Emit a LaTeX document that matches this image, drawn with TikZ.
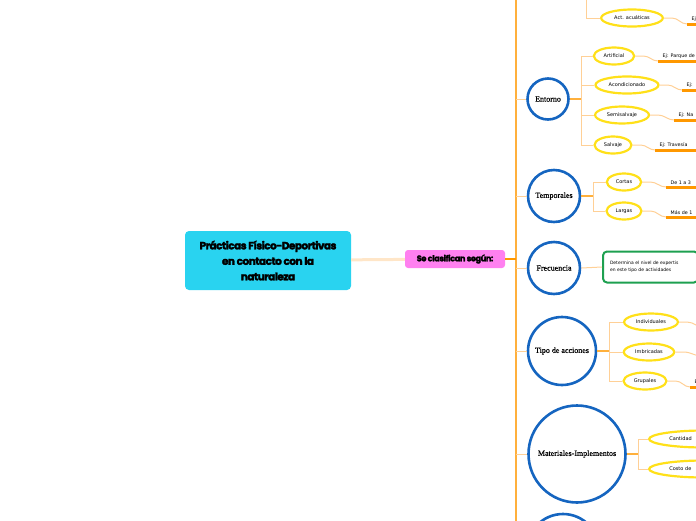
\documentclass[tikz,border=0pt]{standalone}
\usepackage{fontspec}
\usetikzlibrary{shapes.geometric}

\newfontfamily\titlefont{Poppins}[LetterSpace=-5, BoldFeatures={FakeBold=2.5}]
\newfontfamily\smallfont{DejaVu Sans}
\newfontfamily\circlefont{Liberation Serif}[FakeBold=0.6]

\definecolor{boxcyan}{RGB}{41,211,240}
\definecolor{boxpink}{RGB}{255,128,240}
\definecolor{catblue}{RGB}{21,101,192}
\definecolor{subyellow}{RGB}{255,224,25}
\definecolor{barorange}{RGB}{255,152,0}
\definecolor{trunkorange}{RGB}{255,176,60}
\definecolor{linkpeach}{RGB}{255,208,150}
\definecolor{palepeach}{RGB}{255,230,200}
\definecolor{boxgreen}{RGB}{30,160,80}

\begin{document}
\begin{tikzpicture}[x=1pt, y=-1pt,
    cat/.style={circle, draw=catblue, line width=2.6pt, fill=white, inner sep=0pt,
      font=\circlefont\fontsize{8}{9}\selectfont},
    sub/.style={ellipse, draw=subyellow, line width=2.2pt, fill=white, inner xsep=4pt,
      inner ysep=1pt, minimum height=17pt, font=\smallfont\fontsize{5}{6}\selectfont},
    ej/.style={anchor=south west, inner xsep=4.5pt, inner ysep=2pt,
      font=\smallfont\fontsize{4.8}{6}\selectfont},
    bar/.style={draw=barorange, line width=3pt},
    link/.style={draw=linkpeach, line width=1pt},
    stem/.style={draw=trunkorange, line width=1.5pt},
  ]
    \useasboundingbox (0,0) rectangle (696,520);
    \clip (0,0) rectangle (696,520);

    % Nodes
    \node[rounded corners=4pt, fill=boxcyan, minimum width=166pt, minimum height=59pt,
      align=center, font=\titlefont\bfseries\fontsize{10.5}{15.5}\selectfont]
      (titulo) at (268,260.5) {Prácticas Físico-Deportivas\\en contacto con la\\naturaleza};
    \node[rounded corners=3pt, fill=boxpink, minimum width=100pt, minimum height=18pt,
      font=\titlefont\bfseries\fontsize{8.2}{9}\selectfont] (clasif) at (455,259) {Se clasifican según:};

    \coordinate (trunktop) at (516,-5);
    \coordinate (trunkbot) at (516,525);

    \node[cat, minimum size=41pt] (entorno) at (548,99) {Entorno};
    \node[cat, minimum size=52pt] (temporales) at (554,196) {Temporales};
    \node[cat, minimum size=52pt] (frecuencia) at (554,268) {Frecuencia};
    \node[cat, minimum size=68pt] (tipo) at (562,351) {Tipo de acciones};
    \node[cat, minimum size=97pt] (materiales) at (577,454) {Materiales-Implementos};
    \node[cat, minimum size=72pt] (otra) at (563,550) {};

    % top branch (its parent lies above the page)
    \coordinate (acuafork) at (586,-20);
    \node[sub, minimum width=66pt] (arriba) at (630,-11) {};
    \node[sub] (acuaticas) at (632,18) {Act. acuáticas};
    \node[ej] (ejacua) at (687,24) {Ej:};

    \coordinate (entornofork) at (581,99);
    \node[sub] (artificial) at (614,56) {Artificial};
    \node[sub] (acondicionado) at (627,85) {Acondicionado};
    \node[sub] (semisalvaje) at (622,115) {Semisalvaje};
    \node[sub] (salvaje) at (613,145) {Salvaje};
    \node[ej] (ejartificial) at (658,61) {Ej: Parque de};
    \node[ej] (ejacond) at (682,90) {Ej:};
    \node[ej] (ejsemi) at (674,120) {Ej: Na};
    \node[ej] (ejsalvaje) at (655,150) {Ej: Travesía};

    \coordinate (temporalesfork) at (593,196);
    \node[sub] (cortas) at (624,182) {Cortas};
    \node[sub] (largas) at (624,211) {Largas};
    \node[ej] (ejcortas) at (666,187) {De 1 a 3};
    \node[ej] (ejlargas) at (666,217) {Más de 1};

    \node[draw=boxgreen, line width=2pt, rounded corners=4pt, fill=white, anchor=west,
      text width=81pt, inner xsep=7pt, minimum height=31pt, align=left,
      font=\smallfont\fontsize{4.5}{6.5}\selectfont]
      (experticia) at (602,267) {Determina el nivel de expertis\\en este tipo de actividades};

    \coordinate (tipofork) at (609,351);
    \node[sub] (individuales) at (651,322) {Individuales};
    \node[sub] (imbricadas) at (649,352) {Imbricadas};
    \node[sub] (grupales) at (645,381) {Grupales};
    \coordinate (ejindiv) at (705,328);
    \coordinate (ejimbric) at (705,357);
    \node[ej] (ejgrupales) at (690,387) {Ej};

    \coordinate (materialesfork) at (638,454);
    \node[sub, anchor=west, text width=70pt, align=left] (cantidad) at (648,439) {Cantidad};
    \node[sub, anchor=west, text width=70pt, align=left] (costo) at (648,469) {Costo de};

    % Edges
    \draw[draw=palepeach, line width=3pt] (titulo) -- (clasif);
    \draw[draw=trunkorange, line width=1.3pt] (trunktop) -- (trunkbot);
    \draw[draw=barorange, line width=2pt] (clasif.east) -- (clasif.east -| trunktop);
    \foreach \c in {entorno, temporales, frecuencia, tipo, materiales, otra}
      \draw[link] (\c.west -| trunktop) -- (\c.west);

    \draw[link] (acuaticas.west) -| (acuafork);
    \draw[link] (arriba.west) -| (acuafork);

    \draw[stem] (entorno.east) -- (entornofork);
    \foreach \s in {artificial, acondicionado, semisalvaje, salvaje}
      \draw[link] (\s.west) -| (entornofork);

    \draw[stem] (temporales.east) -- (temporalesfork);
    \foreach \s in {cortas, largas}
      \draw[link] (\s.west) -| (temporalesfork);

    \draw[link] (frecuencia.east) -- (experticia.west);

    \draw[stem] (tipo.east) -- (tipofork);
    \foreach \s in {individuales, imbricadas, grupales}
      \draw[link] (\s.west) -| (tipofork);

    \draw[stem] (materiales.east) -- (materialesfork);
    \foreach \s in {cantidad, costo}
      \draw[link] (\s.west) -| (materialesfork);

    % examples
    \foreach \s/\e in {acuaticas/ejacua, artificial/ejartificial, acondicionado/ejacond,
        semisalvaje/ejsemi, salvaje/ejsalvaje, cortas/ejcortas, largas/ejlargas,
        grupales/ejgrupales} {
      \draw[link] (\s.east) -- ++(8,0) to[out=0, in=180] (\e.south west);
      \draw[bar] (\e.south west) -- ++(60,0);
    }
    \draw[link] (individuales.east) -- ++(8,0) to[out=0, in=180] (ejindiv);
    \draw[link] (imbricadas.east) -- ++(8,0) to[out=0, in=180] (ejimbric);
\end{tikzpicture}
\end{document}
